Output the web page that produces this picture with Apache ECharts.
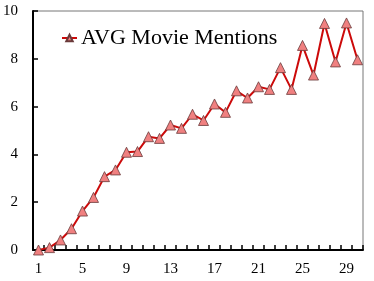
<!DOCTYPE html>
<html><head><meta charset="utf-8">
<script src="https://cdn.jsdelivr.net/npm/echarts@6/dist/echarts.min.js"></script>
<style>html,body{margin:0;padding:0;background:#fff}#c{width:374px;height:281px}</style>
</head><body><div id="c"></div>
<script>
const categories = [1,2,3,4,5,6,7,8,9,10,11,12,13,14,15,16,17,18,19,20,21,22,23,24,25,26,27,28,29,30];
const avgMentions = [0.0,0.1,0.42,0.89,1.63,2.2,3.07,3.35,4.09,4.12,4.74,4.67,5.23,5.09,5.68,5.42,6.11,5.76,6.66,6.36,6.83,6.72,7.63,6.72,8.56,7.32,9.48,7.87,9.5,7.96];
const seriesName = 'AVG Movie Mentions';
const yTicks = {min:0, max:10, interval:2};

const chart = echarts.init(document.getElementById('c'));
const serif = '"Liberation Serif", "DejaVu Serif", serif';
chart.setOption({
  animation:false,
  grid:{left:33,right:11,top:11,bottom:31,show:true,borderColor:'#777',borderWidth:1},
  legend:{left:61,top:27,padding:0,itemWidth:15,itemHeight:8,itemGap:0,
    textStyle:{fontFamily:serif,fontSize:22,color:'#000',padding:[0,0,0,-1]},data:[seriesName]},
  xAxis:{type:'category',data:categories,boundaryGap:true,
    axisLine:{lineStyle:{color:'#000',width:2}},
    axisTick:{show:true,inside:true,length:5,interval:0,lineStyle:{color:'#000',width:1.5}},
    axisLabel:{interval:3,fontFamily:serif,fontSize:15,color:'#000',margin:12},
    splitLine:{show:false}},
  yAxis:{type:'value',min:yTicks.min,max:yTicks.max,interval:yTicks.interval,
    axisLine:{show:true,lineStyle:{color:'#000',width:2}},
    axisTick:{show:true,inside:true,length:5,lineStyle:{color:'#000',width:1.5}},
    axisLabel:{fontFamily:serif,fontSize:15,color:'#000',margin:15},
    splitLine:{show:false}},
  series:[{name:seriesName,type:'line',data:avgMentions,
    symbol:'triangle',symbolSize:10,showAllSymbol:true,
    lineStyle:{color:'#cc0a0a',width:2},
    itemStyle:{color:'#f08080',borderColor:'#6a3a3a',borderWidth:0.8}}]
});
</script></body></html>
